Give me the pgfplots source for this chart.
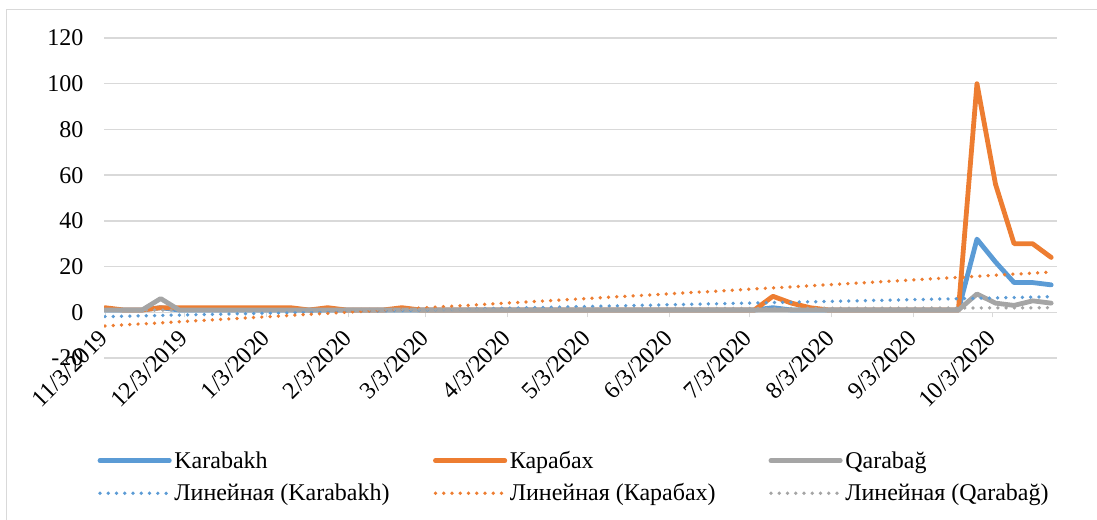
\documentclass[border=0pt]{standalone}
\usepackage{fontspec}
\setmainfont{Liberation Serif}
\usepackage{pgfplots}
\pgfplotsset{compat=1.18}
\usepackage{pgfplotstable}
\definecolor{cblue}{HTML}{5B9BD5}
\definecolor{corange}{HTML}{ED7D31}
\definecolor{cgray}{HTML}{A5A5A5}
\definecolor{cgrid}{HTML}{D9D9D9}

\pgfplotstableread{
day kb kr qb
0 1 2 1
7 1 1 1
14 1 1 1
21 2 2 6
28 1 2 1
35 1 2 1
42 1 2 1
49 1 2 1
56 1 2 1
63 1 2 1
70 1 2 1
77 1 1 1
84 1 2 1
91 1 1 1
98 1 1 1
105 1 1 1
112 1 2 1
119 1 1 1
126 1 1 1
133 1 1 1
140 1 1 1
147 1 1 1
154 1 1 1
161 1 1 1
168 1 1 1
175 1 1 1
182 1 1 1
189 1 1 1
196 1 1 1
203 1 1 1
210 1 1 1
217 1 1 1
224 1 1 1
231 1 1 1
238 1 1 1
245 1 1 1
252 2 7 1
259 1 4 1
266 1 2 1
273 1 1 1
280 1 1 1
287 1 1 1
294 1 1 1
301 1 1 1
308 1 1 1
315 1 1 1
322 1 1 1
329 32 100 8
336 22 56 4
343 13 30 3
350 13 30 5
357 12 24 4
}\datatable

\begin{document}
\begin{tikzpicture}
\path[use as bounding box] (0,0) rectangle (822.75pt,390pt);
\draw[cgrid, line width=0.75pt] (5pt,0pt) -- (5pt,383pt) -- (822.75pt,383pt);
\begin{axis}[
  at={(78pt,121.5pt)}, anchor=south west,
  scale only axis, width=714.75pt, height=240pt,
  xmin=-0.38, xmax=359.2, ymin=-20, ymax=120,
  axis x line=middle, axis y line=left,
  x axis line style={-, cgrid, line width=0.75pt},
  y axis line style={draw=none},
  xtick={0,30,61,92,121,152,182,213,243,274,305,335},
  xticklabels={11/3/2019,12/3/2019,1/3/2020,2/3/2020,3/3/2020,4/3/2020,5/3/2020,6/3/2020,7/3/2020,8/3/2020,9/3/2020,10/3/2020},
  xtick align=outside,
  x tick style={cgrid, line width=0.75pt},
  major tick length=3.75pt,
  ytick={-20,0,20,40,60,80,100,120},
  yticklabels={-20,0,20,40,60,80,100,120},
  ytick style={draw=none},
  ymajorgrids, grid style={cgrid, line width=1pt},
  tick label style={font=\fontsize{18}{21}\selectfont},
  yticklabel style={anchor=east, xshift=-10pt},
  xticklabel style={rotate=45, anchor=east, inner sep=1pt},
  xticklabel shift=12pt,
  legend columns=3,
  legend cell align=left,
  legend style={draw=none, fill=none, at={(axis description cs:-0.007,-0.282)}, anchor=north west,
    font=\fontsize{18}{21}\selectfont, row sep=6pt, inner sep=0pt},
  legend image code/.code={\draw[#1] (0pt,0pt) -- (52pt,0pt);},
]
\addplot[cblue, line width=3.6pt, line join=round, line cap=round] table[x=day,y=kb]{\datatable};
\addlegendentry{\makebox[192pt][l]{Karabakh}}
\addplot[corange, line width=3.6pt, line join=round, line cap=round] table[x=day,y=kr]{\datatable};
\addlegendentry{\makebox[192pt][l]{Карабах}}
\addplot[cgray, line width=3.6pt, line join=round, line cap=round] table[x=day,y=qb]{\datatable};
\addlegendentry{\makebox[192pt][l]{Qarabağ}}
\addplot[cblue, line width=2.8pt, line cap=round, dash pattern=on 0pt off 6.2pt] coordinates {(0,-1.9) (357,6.8)};
\addlegendentry{\makebox[192pt][l]{Линейная (Karabakh)}}
\addplot[corange, line width=2.8pt, line cap=round, dash pattern=on 0pt off 6.2pt] coordinates {(0,-6) (357,17.6)};
\addlegendentry{\makebox[192pt][l]{Линейная (Карабах)}}
\addplot[cgray, line width=2.8pt, line cap=round, dash pattern=on 0pt off 6.2pt] coordinates {(0,0.9) (357,2.0)};
\addlegendentry{\makebox[192pt][l]{Линейная (Qarabağ)}}
\end{axis}
\end{tikzpicture}
\end{document}
